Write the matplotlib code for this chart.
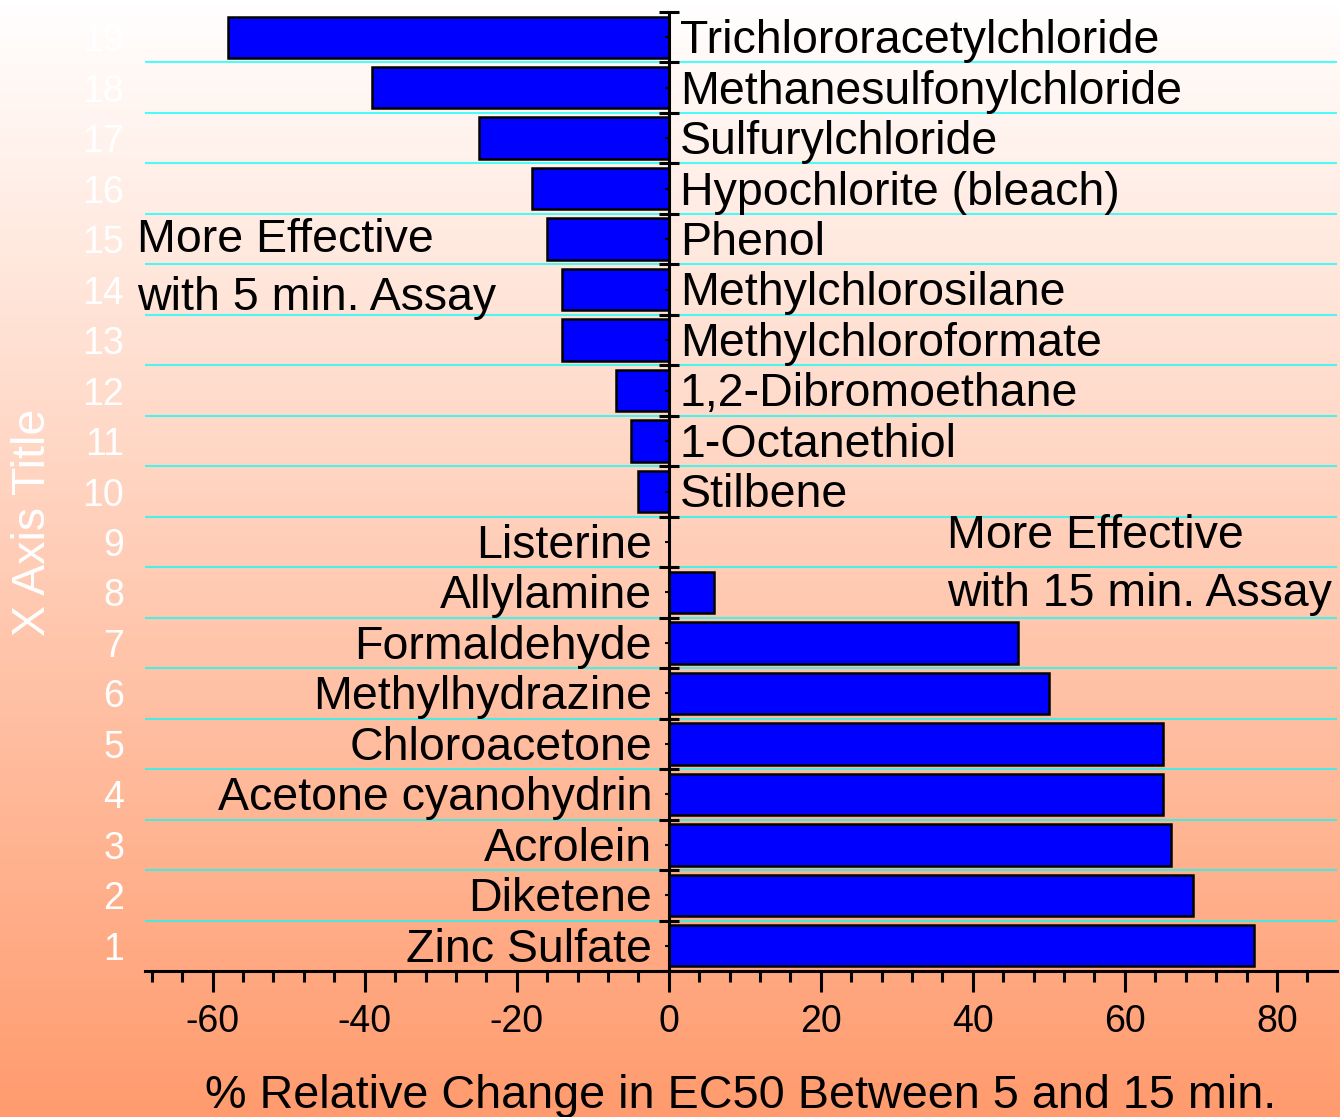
import numpy as np
import matplotlib
matplotlib.use("Agg")
import matplotlib.pyplot as plt
from matplotlib.ticker import MultipleLocator

plt.rcParams['font.family'] = ['Liberation Sans', 'DejaVu Sans']

# data
rows = list(range(1, 20))
compounds = ["Zinc Sulfate", "Diketene", "Acrolein", "Acetone cyanohydrin",
             "Chloroacetone", "Methylhydrazine", "Formaldehyde", "Allylamine",
             "Listerine", "Stilbene", "1-Octanethiol", "1,2-Dibromoethane",
             "Methylchloroformate", "Methylchlorosilane", "Phenol",
             "Hypochlorite (bleach)", "Sulfurylchloride",
             "Methanesulfonylchloride", "Trichlororacetylchloride"]
change = [77, 69, 66, 65, 65, 50, 46, 6, 0, -4, -5, -7, -14, -14, -16, -18,
          -25, -39, -58]
xticks = [-60, -40, -20, 0, 20, 40, 60, 80]

W, H = 1340, 1117
fig = plt.figure(figsize=(W / 100, H / 100), dpi=100)

# background gradient white -> salmon
bg = fig.add_axes([0, 0, 1, 1], zorder=-10)
top = np.array([255, 255, 255]) / 255.
bot = np.array([255, 155, 110]) / 255.
t = np.linspace(0, 1, 256)[:, None]
grad = top[None, :] * (1 - t) + bot[None, :] * t
bg.imshow(grad[:, None, :], aspect='auto', extent=[0, 1, 0, 1])
bg.axis('off')

ax = fig.add_axes([145 / W, (H - 971) / H, (1337 - 145) / W, (971 - 12) / H])
ax.set_facecolor('none')

for y in np.arange(1.5, 19.0, 1.0):
    ax.axhline(y, color=(0, 1, 1), alpha=0.7, lw=1.5, zorder=1)

ax.barh(rows, change, height=0.82, color='#0000FF', edgecolor='black',
        linewidth=1.8, zorder=3)

# vertical zero axis with ticks
yt = np.arange(0.5, 20, 1.0)
ax.plot(np.zeros(len(yt)), yt, color='black', lw=2.2, marker='_', ms=15,
        mew=2.2, zorder=4, clip_on=False)
ax.plot(np.zeros(len(rows)), rows, ls='none', color='black', marker=0, ms=3,
        mew=1.5, zorder=4)

for r, name, v in zip(rows, compounds, change):
    if v < 0:
        ax.annotate(name, (0, r), xytext=(8, -2.8), textcoords='offset points',
                    ha='left', va='center', fontsize=33.5, zorder=5)
    else:
        ax.annotate(name, (0, r), xytext=(-12, -2.8), textcoords='offset points',
                    ha='right', va='center', fontsize=33.5, zorder=5)

ax.set_xlim(-68.9, 87.9)
ax.set_ylim(0.5, 19.5)
for s in ['left', 'right', 'top']:
    ax.spines[s].set_visible(False)
ax.spines['bottom'].set_linewidth(2.2)

ax.set_xticks(xticks)
ax.set_xticklabels([str(v) for v in xticks])
ax.xaxis.set_minor_locator(MultipleLocator(4))
ax.tick_params(axis='x', which='major', length=15, width=2.2, pad=8.5,
               labelsize=27, direction='out')
ax.tick_params(axis='x', which='minor', length=8, width=2.2, direction='out')

ax.set_yticks(rows)
ax.set_yticklabels([str(r) for r in rows])
ax.tick_params(axis='y', length=0, pad=15, labelsize=27, labelcolor='white')

fig.text(741 / W, 1 - 1096 / H, "% Relative Change in EC50 Between 5 and 15 min.",
         ha='center', va='center', fontsize=33.7)
fig.text(33 / W, 1 - 522 / H, "X Axis Title", rotation=90, ha='center',
         va='center', fontsize=33.5, color='white')

fig.text(137 / W, 1 - 240 / H, "More Effective", ha='left', va='center',
         fontsize=33.5)
fig.text(137 / W, 1 - 298 / H, "with 5 min. Assay", ha='left', va='center',
         fontsize=33.5)
fig.text(947 / W, 1 - 536 / H, "More Effective", ha='left', va='center',
         fontsize=33.5)
fig.text(947 / W, 1 - 594 / H, "with 15 min. Assay", ha='left', va='center',
         fontsize=33.5)

fig.savefig("out.png", dpi=100)
